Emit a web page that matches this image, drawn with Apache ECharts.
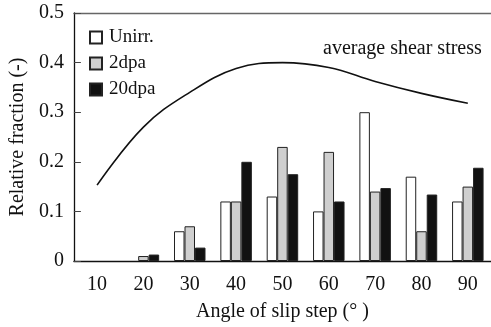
<!DOCTYPE html>
<html>
<head>
<meta charset="utf-8">
<script src="https://cdn.jsdelivr.net/npm/echarts@6/dist/echarts.min.js"></script>
<style>
  html, body { margin:0; padding:0; background:#fff; }
  #chart { width:491px; height:327px; }
</style>
</head>
<body>
<div id="chart"></div>
<script>
// ====== data ======
const angles  = ['10','20','30','40','50','60','70','80','90'];
const unirr   = [0, 0, 0.06, 0.12, 0.13, 0.10, 0.30, 0.17, 0.12];
const dpa2    = [0, 0.01, 0.07, 0.12, 0.23, 0.22, 0.14, 0.06, 0.15];
const dpa20   = [0, 0.013, 0.027, 0.20, 0.175, 0.12, 0.147, 0.134, 0.188];
const shear   = [0.153, 0.27, 0.34, 0.388, 0.40, 0.39, 0.362, 0.338, 0.318];
const yTicks  = [0, 0.1, 0.2, 0.3, 0.4, 0.5];

const FONT = '"Liberation Serif", "DejaVu Serif", serif';
const INK = '#111';

const chart = echarts.init(document.getElementById('chart'));

function barSeries(name, data, fill){
  return {
    name, type:'bar',
    data: data.map(v => v === 0 ? '-' : v),   // empty cells draw nothing
    barWidth:10.5, barGap:'0%',
    itemStyle:{ color:fill, borderColor:'#222', borderWidth:1 },
    emphasis:{ disabled:true },
  };
}

chart.setOption({
  animation:false,
  textStyle:{ fontFamily:FONT, color:INK },
  grid:{ left:70, top:13, width:426, bottom:66 },
  legend:{
    data:['Unirr.','2dpa','20dpa'],
    orient:'vertical', left:89, top:28, padding:0,
    icon:'rect', itemWidth:12, itemHeight:12, itemGap:7,
    textStyle:{ fontFamily:FONT, fontSize:19, color:INK, padding:[0,0,0,2] },
  },
  xAxis:[{
    type:'category', data:angles,
    axisLine:{ lineStyle:{ color:INK, width:1.3 } },
    axisTick:{ inside:true, length:6, lineStyle:{ color:'#444' } },
    axisLabel:{ fontFamily:FONT, fontSize:20, color:INK, margin:14 },
    name:'Angle of slip step (° )', nameLocation:'middle', nameGap:41,
    nameTextStyle:{ fontFamily:FONT, fontSize:20, color:INK },
  },{
    type:'category', data:angles, position:'top',
    axisLine:{ lineStyle:{ color:'#666', width:1.3 } },
    axisTick:{ show:false }, axisLabel:{ show:false },
  }],
  yAxis:{
    type:'value', min:0, max:0.5, interval:0.1,
    axisLine:{ show:true, lineStyle:{ color:INK, width:1.3 } },
    axisTick:{ show:true, inside:true, length:7, lineStyle:{ color:'#444' } },
    splitLine:{ show:false },
    axisLabel:{
      fontFamily:FONT, fontSize:20, color:INK, margin:10,
      formatter:(v)=>{ const t = yTicks.find(x=>Math.abs(x-v)<1e-9); return t===0 ? '0' : t.toFixed(1); },
    },
    name:'Relative fraction (-)', nameLocation:'middle', nameGap:43,
    nameTextStyle:{ fontFamily:FONT, fontSize:20, color:INK },
  },
  series:[
    barSeries('Unirr.', unirr, '#ffffff'),
    barSeries('2dpa', dpa2, '#cfcfcf'),
    barSeries('20dpa', dpa20, '#111111'),
    {
      name:'average shear stress', type:'line', data:shear,
      smooth:0.4, showSymbol:false, symbol:'none',
      lineStyle:{ color:'#111', width:1.6 },
      emphasis:{ disabled:true },
    },
  ],
  graphic:[{
    type:'text', left:323, top:39,
    style:{ text:'average shear stress', font:'20px ' + FONT, fill:INK },
  }],
});
</script>
</body>
</html>
